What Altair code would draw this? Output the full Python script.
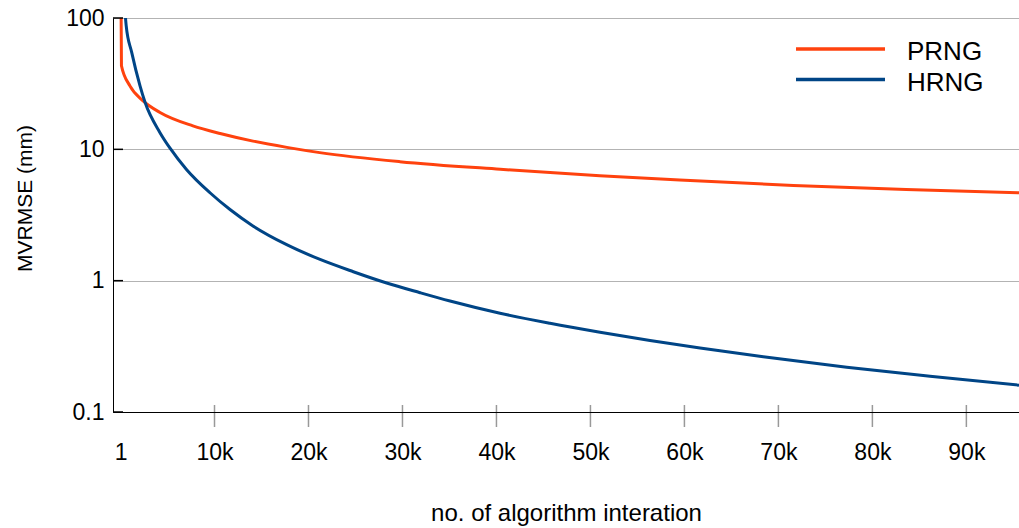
import altair as alt
import pandas as pd

# ---- data ----
series_names = ["PRNG", "HRNG"]
series_colors = ["#ff420e", "#004586"]

prng_iter = [1, 100, 1000, 2400, 4200, 7700, 10600, 14100, 17700, 21200,
             29700, 40400, 51000, 59500, 71600, 83600, 95600]
prng_err = [500, 43.3, 30.4, 23.4, 19.1, 15.1, 13.2, 11.55, 10.35, 9.44,
            8.06, 7.05, 6.3, 5.83, 5.31, 4.95, 4.67]

hrng_iter = [1, 600, 1190, 2075, 2600, 4200, 5270, 7040, 9520, 11650, 14130,
             17680, 21230, 24770, 28320, 31870, 35060, 40380, 45700, 51020,
             56340, 61660, 68390, 77270, 86130, 95600]
hrng_err = [400, 88, 54.7, 30.4, 22.9, 13.4, 10.2, 7.0, 4.67, 3.48, 2.60,
            1.88, 1.45, 1.17, 0.96, 0.81, 0.70, 0.565, 0.474, 0.405,
            0.350, 0.307, 0.263, 0.219, 0.187, 0.160]

x_ticks = [1, 10000, 20000, 30000, 40000, 50000, 60000, 70000, 80000, 90000]
x_tick_marks = [10000, 20000, 30000, 40000, 50000, 60000, 70000, 80000, 90000]
y_ticks = [0.1, 1, 10, 100]

FONT = "Liberation Sans"

df = pd.concat([
    pd.DataFrame({"iter": prng_iter, "err": prng_err, "series": "PRNG"}),
    pd.DataFrame({"iter": hrng_iter, "err": hrng_err, "series": "HRNG"}),
])

xscale = alt.Scale(domain=[-800, 95600], nice=False, zero=False)
yscale = alt.Scale(type="log", domain=[0.1, 100], nice=False)
cscale = alt.Scale(domain=series_names, range=series_colors)

x_axis = alt.Axis(values=x_ticks, grid=False, ticks=False, tickSize=0,
                  labelExpr="datum.value == 1 ? '1' : (datum.value / 1000) + 'k'",
                  labelFont=FONT, labelFontSize=23, labelColor="#000000",
                  labelPadding=29, labelBaseline="top",
                  domainColor="#000000", domainWidth=1,
                  title="no. of algorithm interation", titleFont=FONT,
                  titleFontSize=24, titleFontWeight="normal", titleColor="#000000",
                  titleX=453, titleY=101, titleBaseline="middle", titleAlign="center",
                  zindex=1)
y_axis = alt.Axis(values=y_ticks, format="~g", grid=True, gridColor="#b3b3b3",
                  gridWidth=1, ticks=False, tickSize=0,
                  labelFont=FONT, labelFontSize=23, labelColor="#000000",
                  labelPadding=9, labelBaseline="middle",
                  domainColor="#000000", domainWidth=1,
                  title="MVRMSE (mm)", titleFont=FONT, titleFontSize=21,
                  titleFontWeight="normal", titleColor="#000000",
                  titleX=-88, titleY=180, titleAngle=-90,
                  titleAlign="center", titleBaseline="middle")

lines = alt.Chart(df).mark_line(strokeWidth=3, clip=True, interpolate="monotone").encode(
    x=alt.X("iter:Q", scale=xscale, axis=x_axis),
    y=alt.Y("err:Q", scale=yscale, axis=y_axis),
    color=alt.Color("series:N", scale=cscale, legend=None),
    detail="series:N",
)

ytick_df = pd.DataFrame({"err": y_ticks})
ytick_rules = alt.Chart(ytick_df).mark_rule(color="#000000", strokeWidth=1.5).encode(
    y=alt.Y("err:Q", scale=yscale, axis=y_axis),
    x=alt.value(0),
    x2=alt.value(10),
)

xtick_df = pd.DataFrame({"iter": x_tick_marks})
xtick_rules = alt.Chart(xtick_df).mark_rule(color="#999999", strokeWidth=1.5).encode(
    x=alt.X("iter:Q", scale=xscale, axis=x_axis),
    y=alt.value(387),
    y2=alt.value(409),
)

legend_layers = []
legend_rows = [31, 61.5]
for name, row_y in zip(series_names, legend_rows):
    ldf = pd.DataFrame({"series": [name]})
    legend_layers.append(
        alt.Chart(ldf).mark_rule(strokeWidth=3.5).encode(
            x=alt.value(683), x2=alt.value(772), y=alt.value(row_y),
            color=alt.Color("series:N", scale=cscale, legend=None),
        )
    )
    legend_layers.append(
        alt.Chart(ldf).mark_text(align="left", baseline="middle", font=FONT,
                                 fontSize=26, color="#000000").encode(
            x=alt.value(794), y=alt.value(row_y + 3), text="series:N",
        )
    )

chart = alt.layer(lines, ytick_rules, xtick_rules, *legend_layers).properties(
    width=906,
    height=394,
    autosize=alt.AutoSizeParams(type="none"),
    padding={"left": 113, "top": 18, "right": 0, "bottom": 116},
).configure_view(stroke=None).configure(background="#ffffff")

chart.save("out.html", embed_options={"renderer": "svg", "actions": False})
